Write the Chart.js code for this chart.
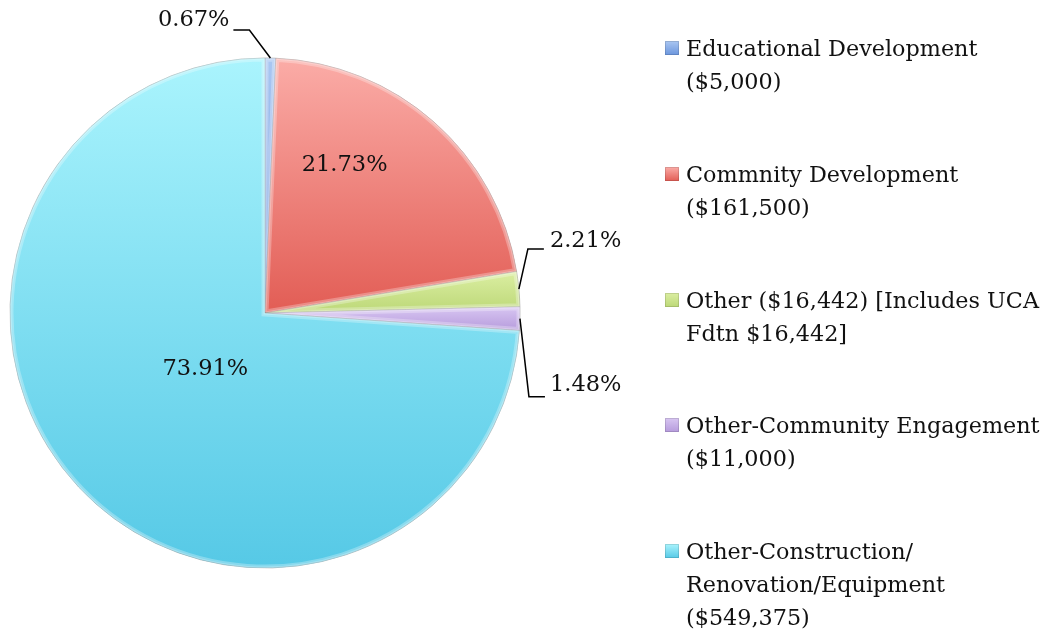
<!DOCTYPE html>
<html>
<head>
<meta charset="utf-8">
<script src="https://cdn.jsdelivr.net/npm/chart.js@4.4.0/dist/chart.umd.min.js"></script>
<style>
  html, body { margin: 0; padding: 0; background: #fff; }
  #wrap { position: relative; width: 1044px; height: 632px; overflow: hidden; }
  #pie { position: absolute; left: 0; top: 0; }
  .lg { position: absolute; left: 665px; font-family: 'DejaVu Serif', serif; font-size: 22.3px; line-height: 33px; color: #111; white-space: nowrap; }
  .lg i { position: absolute; left: 0; top: 9px; width: 14px; height: 14px; box-shadow: inset 0 0 0 1px rgba(0,0,0,.12); }
  .lg span { display: block; margin-left: 21px; }
</style>
</head>
<body>
<div id="wrap">
  <canvas id="pie" width="1044" height="632"></canvas>
  <div id="legend"></div>
</div>
<script>
// funding split by category, in dollars
const categories = [
  ['Educational Development', '($5,000)'],
  ['Commnity Development', '($161,500)'],
  ['Other ($16,442) [Includes UCA', 'Fdtn $16,442]'],
  ['Other-Community Engagement', '($11,000)'],
  ['Other-Construction/', 'Renovation/Equipment', '($549,375)']
];
const amounts = [5000, 161500, 16442, 11000, 549375];

// light -> dark shading for each slice
const shadeTop = ['#aac7f2', '#fbaca7', '#dbeea2', '#d8c6f2', '#aaf4fd'];
const shadeBot = ['#6b96dd', '#e25d55', '#bcd877', '#b69bdc', '#56c9e6'];

// label placement: inside slices use angle fraction / radius fraction,
// outside ones get a leader line (elbow offset, tail length, text nudge)
const labelPos = [
  { elbow: [-21, -28], tail: -16, nudge: [-4, -10] },
  { inside: true, at: 0.33, r: 0.66 },
  { elbow: [9, -40], tail: 16, nudge: [6, -8] },
  { elbow: [9, 78], tail: 16, nudge: [5, -11] },
  { inside: true, at: 0.5, r: 0.32 }
];

const total = amounts.reduce((a, b) => a + b, 0);
const pct = v => (v / total * 100).toFixed(2) + '%';

// vertical extent of slice i, so its gradient runs over its own height
function sliceSpan(i, cy, r) {
  const before = amounts.slice(0, i).reduce((a, b) => a + b, 0);
  const a0 = -Math.PI / 2 + before / total * 2 * Math.PI;
  const a1 = a0 + amounts[i] / total * 2 * Math.PI;
  let lo = cy, hi = cy;
  for (let k = 0; k <= 40; k++) {
    const yy = cy + r * Math.sin(a0 + (a1 - a0) * k / 40);
    lo = Math.min(lo, yy); hi = Math.max(hi, yy);
  }
  return [lo, hi];
}

function shade(ctx) {
  const i = ctx.dataIndex;
  const area = ctx.chart.chartArea;
  if (!area) return shadeBot[i];
  const cy = (area.top + area.bottom) / 2;
  const [lo, hi] = sliceSpan(i, cy, (area.bottom - area.top) / 2);
  const g = ctx.chart.ctx.createLinearGradient(0, lo, 0, hi);
  g.addColorStop(0, shadeTop[i]);
  g.addColorStop(1, shadeBot[i]);
  return g;
}

// soft inner rim on every slice
const bevel = {
  id: 'bevel',
  afterDatasetsDraw(chart) {
    const c = chart.ctx;
    chart.getDatasetMeta(0).data.forEach(arc => {
      const { x, y, startAngle, endAngle, outerRadius } =
        arc.getProps(['x', 'y', 'startAngle', 'endAngle', 'outerRadius'], true);
      c.save();
      c.beginPath();
      c.moveTo(x, y);
      c.arc(x, y, outerRadius, startAngle, endAngle);
      c.closePath();
      c.clip();
      c.strokeStyle = 'rgba(255,255,255,0.28)';
      c.lineWidth = 7;
      c.stroke();
      c.strokeStyle = 'rgba(255,255,255,0.25)';
      c.lineWidth = 3;
      c.stroke();
      c.restore();
    });
  }
};

const pctLabels = {
  id: 'pctLabels',
  afterDatasetsDraw(chart) {
    const c = chart.ctx;
    const arcs = chart.getDatasetMeta(0).data;
    c.save();
    c.font = '22.5px "DejaVu Serif"';
    c.fillStyle = '#111';
    c.strokeStyle = '#000';
    c.lineWidth = 1.5;
    arcs.forEach((arc, i) => {
      const { x, y, startAngle, endAngle, outerRadius } =
        arc.getProps(['x', 'y', 'startAngle', 'endAngle', 'outerRadius'], true);
      const L = labelPos[i];
      const txt = pct(amounts[i]);
      if (L.inside) {
        const a = startAngle + (endAngle - startAngle) * L.at;
        const r = outerRadius * L.r;
        c.textAlign = 'center';
        c.textBaseline = 'middle';
        c.fillText(txt, x + r * Math.cos(a), y + r * Math.sin(a));
        return;
      }
      const a = (startAngle + endAngle) / 2;
      const ex = x + outerRadius * Math.cos(a), ey = y + outerRadius * Math.sin(a);
      const kx = ex + L.elbow[0], ky = ey + L.elbow[1];
      const tx = kx + L.tail;
      c.beginPath();
      c.moveTo(ex, ey);
      c.lineTo(kx, ky);
      c.lineTo(tx, ky);
      c.stroke();
      c.textAlign = L.tail < 0 ? 'right' : 'left';
      c.textBaseline = 'middle';
      c.fillText(txt, tx + L.nudge[0], ky + L.nudge[1]);
    });
    c.restore();
  }
};

new Chart(document.getElementById('pie'), {
  type: 'pie',
  data: {
    labels: categories,
    datasets: [{
      data: amounts,
      backgroundColor: shade,
      borderColor: 'rgba(60,60,60,0.3)',
      borderWidth: 1
    }]
  },
  options: {
    responsive: false,
    animation: false,
    radius: 255,
    layout: { padding: { left: 10, top: 58, right: 524, bottom: 64 } },
    plugins: { legend: { display: false }, tooltip: { enabled: false } }
  },
  plugins: [bevel, pctLabels]
});

// legend on the right, one block per category
const lg = document.getElementById('legend');
categories.forEach((lines, i) => {
  const d = document.createElement('div');
  d.className = 'lg';
  d.style.top = (32 + i * 125.8) + 'px';
  d.innerHTML = `<i style="background:linear-gradient(${shadeTop[i]},${shadeBot[i]})"></i>` +
    lines.map(t => `<span>${t}</span>`).join('');
  lg.appendChild(d);
});
</script>
</body>
</html>
